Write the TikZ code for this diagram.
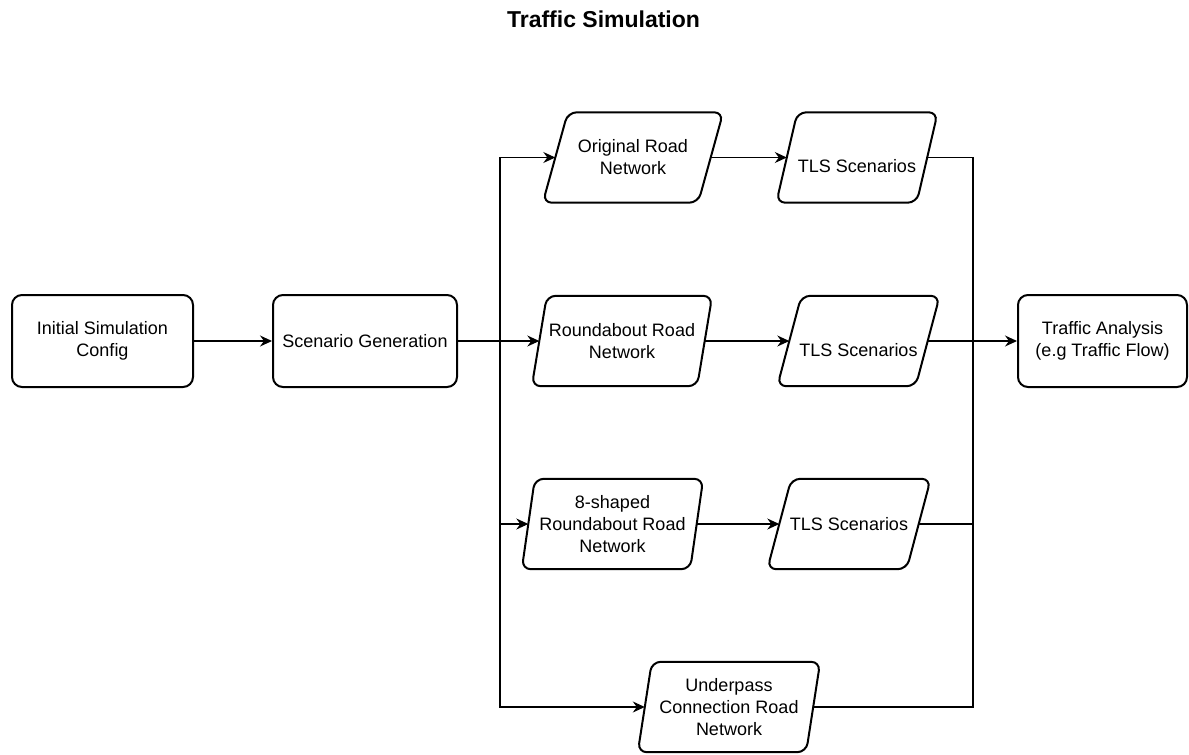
\documentclass[tikz,border=0pt]{standalone}
\usepackage{fontspec}
\setmainfont{Liberation Sans}
\usetikzlibrary{arrows.meta,calc}

% Outline of a slanted data box around a node: #1 node name, #2 horizontal skew
\newcommand\paraoutline[2]{%
  \draw[shapeline] ([xshift=#2/2]#1.north west) -- ([xshift=#2/2]#1.north east)
    -- ([xshift=-#2/2]#1.south east) -- ([xshift=-#2/2]#1.south west) -- cycle;}

\tikzset{
  txt/.style={font=\fontsize{18pt}{22pt}\selectfont, align=center, text=black},
  shapeline/.style={line width=2pt, rounded corners=9pt, draw=black},
  procbox/.style={txt, draw=black, line width=2pt, rounded corners=10pt,
    minimum height=92pt, inner sep=0pt},
  databox/.style={txt, minimum width=#1, minimum height=90pt, inner sep=0pt},
  conn/.style={line width=1.1pt, draw=black},
  arr/.style={conn, -{Stealth[length=12pt,width=11pt,inset=4pt]}},
}

\begin{document}
\begin{tikzpicture}[x=1pt,y=-1pt]
\useasboundingbox (0,0) rectangle (1189,755);

\node (title) at (603.5,19) {\fontsize{23pt}{27pt}\selectfont\bfseries Traffic Simulation};

% process boxes
\node[procbox, minimum width=181pt] (init) at (102.5,341) {Initial Simulation\\Config};
\node[procbox, minimum width=184pt] (scen) at (365,341) {Scenario Generation};
\node[procbox, minimum width=169pt] (ta) at (1102.5,341) {Traffic Analysis\\(e.g Traffic Flow)};

% road networks
\node[databox=155pt] (orig) at (633,157.5) {Original Road\\Network};
\node[databox=165pt] (round) at (622,341) {Roundabout Road\\Network};
\node[databox=168pt] (eight) at (612.5,524) {8-shaped\\Roundabout Road\\Network};
\node[databox=168pt] (under) at (729,707) {Underpass\\Connection Road\\Network};

% signal scenarios
\node[databox=140pt, label={[txt,yshift=-9pt]center:TLS Scenarios}] (tls1) at (857,157.5) {};
\node[databox=138pt, label={[txt,yshift=-9pt]center:TLS Scenarios}] (tls2) at (858.5,341) {};
\node[databox=139pt] (tls3) at (849,524) {TLS Scenarios};

\paraoutline{orig}{25}
\paraoutline{round}{15}
\paraoutline{eight}{13}
\paraoutline{under}{14}
\paraoutline{tls1}{21}
\paraoutline{tls2}{24}
\paraoutline{tls3}{24}

% junction points of the fan-out and fan-in lines
\coordinate (split) at (500,341);
\coordinate (merge) at (973,341);

\draw[arr] (init) -- (scen);
\draw[arr] (scen) -- (round);
\draw[arr] (split) |- (orig.west);
\draw[arr] (split) |- (eight.west);
\draw[arr] (split) |- (under.west);

\draw[arr] (orig) -- (tls1);
\draw[arr] (round) -- (tls2);
\draw[arr] (eight) -- (tls3);

\draw[conn] (tls1.east) -| (merge);
\draw[conn] (tls3.east) -| (merge);
\draw[conn] (under.east) -| (merge);
\draw[arr] (tls2) -- (ta);
\end{tikzpicture}
\end{document}
